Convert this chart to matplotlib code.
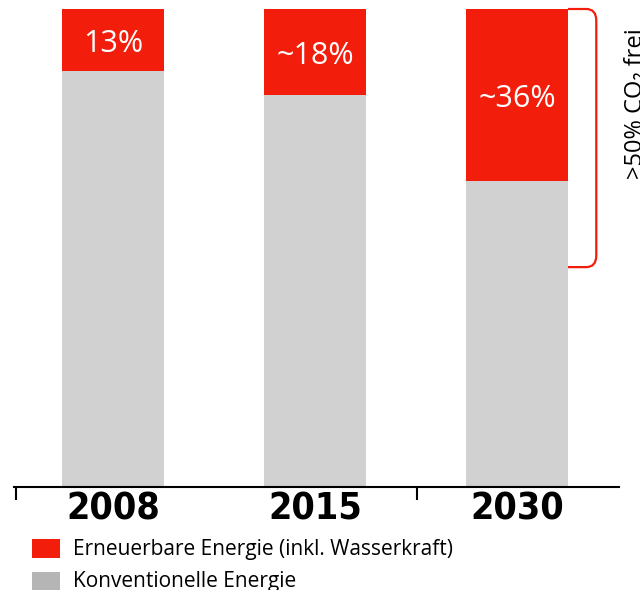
import matplotlib.pyplot as plt
from matplotlib.patches import Rectangle, PathPatch
from matplotlib.path import Path

years = ['2008', '2015', '2030']
renewable = [13, 18, 36]
conventional = [87, 82, 64]
renewable_labels = ['13%', '~18%', '~36%']
brace_low = 46
brace_text = '>50% CO₂ frei'
legend_labels = ['Erneuerbare Energie (inkl. Wasserkraft)', 'Konventionelle Energie']

RED = '#F21D0A'
GREY = '#D1D1D1'
GREY_LEG = '#B5B5B5'
TXT = ['Open Sans', 'DejaVu Sans']

fig = plt.figure(figsize=(6.4, 5.9), dpi=100)
ax = fig.add_axes([14 / 640, 103 / 590, 605 / 640, 478 / 590])

x = list(range(len(years)))
w = 0.505
ax.bar(x, conventional, width=w, color=GREY, linewidth=0)
ax.bar(x, renewable, width=w, bottom=conventional, color=RED, linewidth=0)

for xi, c, r, lab in zip(x, conventional, renewable, renewable_labels):
    ax.text(xi, c + r / 2, lab, ha='center', va='center_baseline', color='white',
            fontsize=22, family=TXT)

ax.set_xlim(-0.49, 2.505)
ax.set_ylim(0, 100)
for s in ['top', 'left', 'right']:
    ax.spines[s].set_visible(False)
ax.spines['bottom'].set_linewidth(1.5)
ax.set_yticks([])
ax.set_xticks(x)
ax.set_xticklabels(years, fontsize=27, fontweight='heavy', family='DejaVu Sans',
                   fontstretch='condensed')
ax.tick_params(axis='x', which='major', length=0, pad=3)
ax.set_xticks([-0.48, 1.505], minor=True)
ax.tick_params(axis='x', which='minor', length=9, width=1.5, direction='out')

# brace on the right of the 2030 bar
x0 = x[-1] + w / 2
x1 = x0 + 0.14
r_x = 0.05
r_y = 2.4
top = conventional[-1] + renewable[-1]
verts = [(x0, top), (x1 - r_x, top), (x1, top), (x1, top - r_y),
         (x1, brace_low + r_y), (x1, brace_low), (x1 - r_x, brace_low), (x0, brace_low)]
codes = [Path.MOVETO, Path.LINETO, Path.CURVE3, Path.CURVE3,
         Path.LINETO, Path.CURVE3, Path.CURVE3, Path.LINETO]
ax.add_patch(PathPatch(Path(verts, codes), fill=False, edgecolor=RED, lw=1.6,
                       clip_on=False))

fig.text(636 / 640, 1 - 104 / 590, brace_text, rotation=90, ha='center', va='center',
         fontsize=17, family=TXT)

# legend
for i, (lab, col) in enumerate(zip(legend_labels, [RED, GREY_LEG])):
    ytop = 539 + i * 33
    fig.add_artist(Rectangle((32 / 640, 1 - (ytop + 19) / 590), 28 / 640, 19 / 590,
                             transform=fig.transFigure, color=col, linewidth=0))
    fig.text(73 / 640, 1 - (ytop + 10) / 590, lab, ha='left', va='center',
             fontsize=15, family=TXT)

fig.savefig('out.png', dpi=100)
